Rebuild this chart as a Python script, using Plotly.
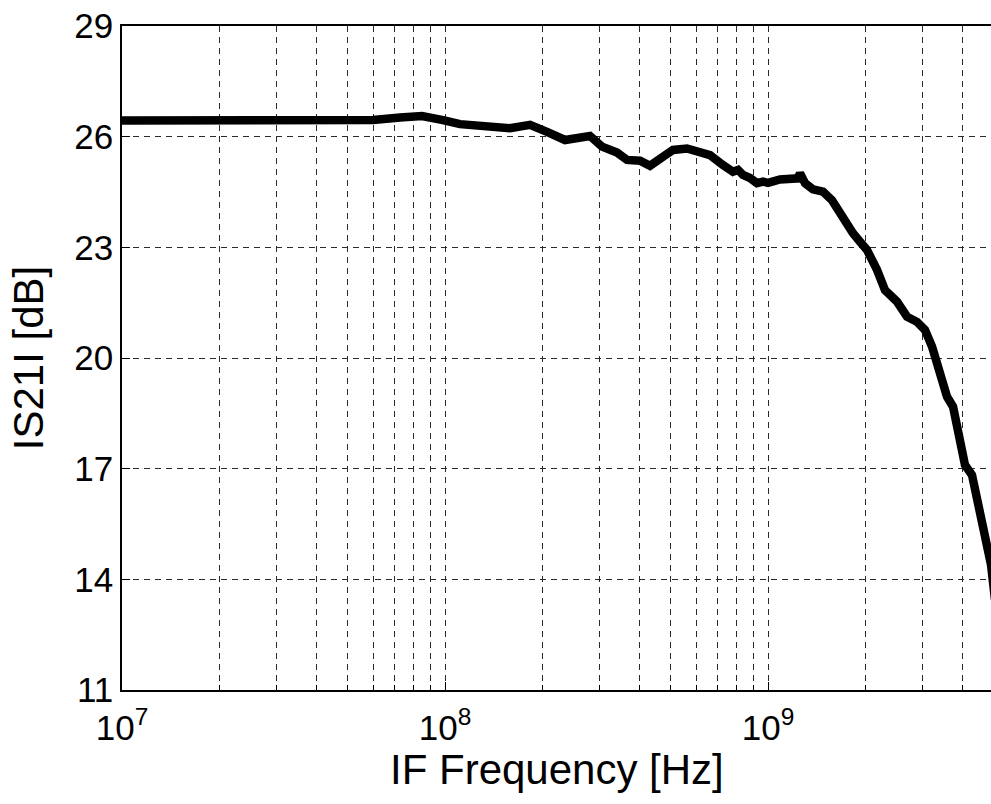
import plotly.graph_objects as go

freq_hz = [1.0e7, 2.49e7, 5.86e7, 5.99e7, 7.26e7, 8.49e7, 9.86e7, 1.113e8, 1.589e8, 1.834e8,
           2.069e8, 2.352e8, 2.811e8, 3.063e8, 3.408e8, 3.660e8, 4.015e8, 4.312e8, 4.867e8, 5.080e8,
           5.614e8, 6.160e8, 6.614e8, 7.256e8, 7.792e8, 8.074e8, 8.367e8, 8.799e8, 9.246e8, 9.650e8,
           1.000e9, 1.089e9, 1.170e9, 1.238e9, 1.256e9, 1.302e9, 1.378e9, 1.480e9, 1.578e9, 1.671e9,
           1.756e9, 1.833e9, 1.927e9, 2.025e9, 2.175e9, 2.302e9, 2.508e9, 2.694e9, 2.892e9, 3.062e9,
           3.219e9, 3.336e9, 3.458e9, 3.583e9, 3.740e9, 3.847e9, 3.987e9, 4.073e9, 4.281e9, 4.437e9,
           4.598e9, 4.764e9, 4.902e9, 5.044e9]
s21_db = [26.44, 26.44, 26.44, 26.45, 26.52, 26.56, 26.45, 26.34, 26.23, 26.32,
          26.13, 25.91, 26.02, 25.73, 25.57, 25.37, 25.35, 25.21, 25.53, 25.64,
          25.68, 25.56, 25.50, 25.23, 25.05, 25.10, 24.96, 24.88, 24.74, 24.78,
          24.75, 24.84, 24.87, 24.87, 25.01, 24.74, 24.57, 24.51, 24.28, 23.92,
          23.61, 23.38, 23.15, 22.93, 22.39, 21.84, 21.53, 21.12, 20.98, 20.76,
          20.31, 19.86, 19.40, 18.95, 18.68, 18.14, 17.60, 17.10, 16.83, 16.24,
          15.61, 15.08, 14.40, 13.45]

y_ticks = [11, 14, 17, 20, 23, 26, 29]
x_tickvals = [1e7, 1e8, 1e9]
x_ticktext = ["10<sup>7</sup>", "10<sup>8</sup>", "10<sup>9</sup>"]
x_title = "IF Frequency [Hz]"
y_title = "IS21I [dB]"

FONT = "Liberation Sans, Arial, Helvetica, sans-serif"
GRID = "#2a2a2a"
DASH = "6px,5px"

fig = go.Figure()
fig.add_trace(go.Scatter(x=freq_hz, y=s21_db, mode="lines",
                         line=dict(color="black", width=8.5), showlegend=False,
                         cliponaxis=True))

fig.update_layout(
    width=991, height=804,
    margin=dict(l=122, r=0, t=26, b=114),
    paper_bgcolor="white", plot_bgcolor="white",
    font=dict(family=FONT, color="black", size=35),
)
fig.add_annotation(text=x_title, xref="paper", yref="paper", x=0.5, y=-0.083,
                   xanchor="center", yanchor="top", showarrow=False, borderpad=0,
                   font=dict(size=42, family=FONT, color="black"))
fig.update_xaxes(
    type="log", range=[7, 9.6904],
    tickvals=x_tickvals, ticktext=x_ticktext,
    tickfont=dict(size=35), ticklabelstandoff=6,
    ticks="inside", ticklen=8, tickcolor="black",
    showline=True, linecolor="black", linewidth=1.5, mirror=True,
    showgrid=True, gridcolor=GRID, gridwidth=1, griddash=DASH,
    minor=dict(dtick="D1", ticks="inside", ticklen=5, tickcolor="black",
               showgrid=True, gridcolor=GRID, gridwidth=1, griddash=DASH),
    zeroline=False,
)
fig.update_yaxes(
    range=[11, 29], tickvals=y_ticks,
    tickfont=dict(size=35),
    ticks="inside", ticklen=8, tickcolor="black",
    showline=True, linecolor="black", linewidth=1.5, mirror=False,
    showgrid=True, gridcolor=GRID, gridwidth=1, griddash=DASH,
    title=dict(text=y_title, font=dict(size=42), standoff=18),
    zeroline=False,
)

fig.write_html("out.html")
